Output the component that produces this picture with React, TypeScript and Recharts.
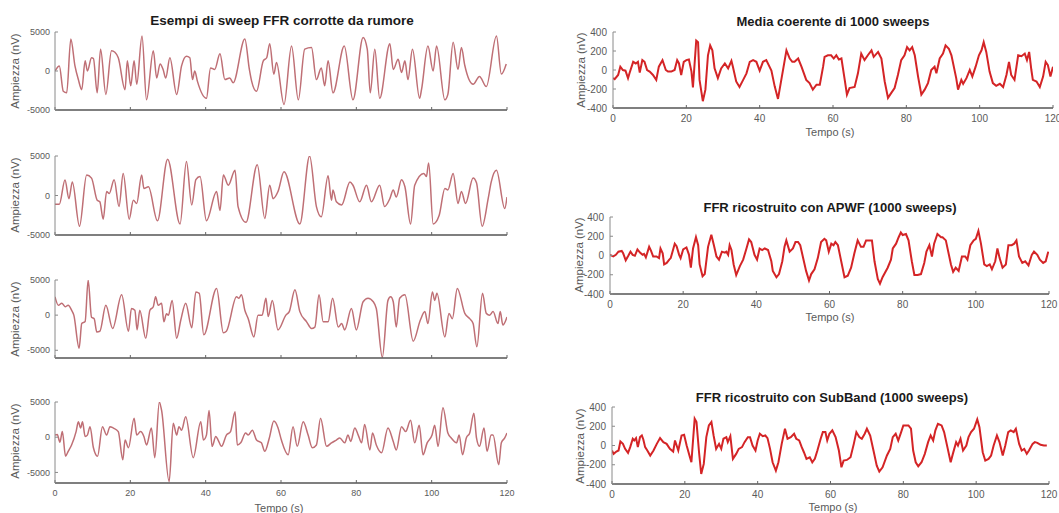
import { LineChart, Line, XAxis, YAxis } from "recharts";

const timeTicks = [0, 20, 40, 60, 80, 100, 120];
const sweepTicks = [-5000, 0, 5000];
const avgTicks = [-400, -200, 0, 200, 400];

const leftTitle = "Esempi di sweep FFR corrotte da rumore";
const rightTitles = [
  "Media coerente di 1000 sweeps",
  "FFR ricostruito con APWF (1000 sweeps)",
  "FFR ricostruito con SubBand (1000 sweeps)",
];
const yLabel = "Ampiezza (nV)";
const xLabel = "Tempo (s)";

// [tempo (s), ampiezza (nV)]
const sweep1: [number, number][] = [
  [0, 0], [1.15, 650], [2.2, -2600], [3.1, -2800], [4.2, 4100], [5.3, 650], [6.2, -1100], [7.1, -2400],
  [8.0, 1300], [8.6, 0], [9.7, 1700], [10.2, 1600], [11.2, -2800], [12.1, 2800], [13.5, -3000], [15.0, 2600],
  [15.9, 2400], [16.8, 1700], [18.6, -2400], [19.2, 1300], [20.1, -1900], [21.0, 1300], [21.7, -1700], [23.1, 4500],
  [24.3, -3700], [26.1, 2600], [27.0, -900], [27.9, 900], [28.7, 200], [29.4, -900], [30.5, 1700], [32.3, -3000],
  [33.6, 650], [34.9, 1900], [35.8, 1700], [36.5, -1100], [37.1, 0], [37.8, -1300], [40.2, -3500], [41.3, 400],
  [42.4, 200], [43.8, 2200], [45.1, -1100], [46.4, -900], [47.3, -1500], [50.4, 4100], [51.6, 200], [52.2, -1300],
  [53.5, -2600], [55.3, 1300], [56.2, 1700], [57.0, 3500], [58.1, -400], [58.8, 1100], [60.8, -4300], [62.8, 3200],
  [64.6, -3700], [66.3, 2800], [68.1, 3000], [69.4, -1100], [70.7, 400], [71.6, -1900], [72.5, 1300], [73.8, -2800],
  [76.8, 3200], [79.1, -3700], [81.8, 4300], [82.9, 2800], [83.7, -2800], [84.9, 2800], [86.2, -3500], [88.9, 3500],
  [89.8, 200], [91.1, 1500], [92.0, -200], [92.9, 1300], [93.7, -1100], [94.9, 2800], [96.8, -3500], [97.3, -2400],
  [99.0, 3200], [100.4, 0], [101.3, 3200], [103.5, -3700], [104.3, -3000], [105.7, 3700], [107.0, 200], [107.9, 3000],
  [108.8, 700], [111.0, -1700], [112.7, -700], [114.5, -2000], [117.2, 4500], [118.5, -400], [119.8, 900],
];

const sweep2: [number, number][] = [
  [0, -1100], [1.15, -1100], [2.65, 1950], [3.7, -400], [4.6, 1700], [6.5, -3900], [8.4, 2600], [9.7, 2200],
  [11.2, -600], [11.9, -800], [12.8, -3000], [13.7, 500], [14.4, 250], [15.7, 2000], [17.0, -1400], [18.1, 2800],
  [19.7, -3000], [20.8, -600], [21.7, -1000], [23.0, 2600], [23.6, 900], [24.8, 1100], [27.2, -3200], [29.9, 4600],
  [33.2, -3600], [34.9, 4300], [36.3, -1200], [37.4, 2000], [38.5, 2400], [40.2, -3200], [42.9, 500], [43.8, -1900],
  [44.7, 2600], [46.0, 1300], [47.8, 3200], [48.6, -1400], [50.7, -3400], [53.7, 3900], [55.7, -2900], [57.0, 1300],
  [57.9, -400], [59.2, 500], [60.8, 3000], [65.0, -3600], [67.6, 5000], [69.4, -1400], [70.7, -2700], [72.5, 2500],
  [73.4, -600], [73.8, 700], [74.7, -800], [76.1, -1200], [78.3, 1700], [79.1, 1300], [80.9, -800], [82.7, 1300],
  [84.0, -800], [86.2, 1300], [87.5, -1400], [88.9, -400], [89.8, 700], [90.6, -200], [92.0, 2000], [92.9, 1100],
  [94.4, -3600], [95.5, 1300], [97.9, 2800], [98.6, 2400], [99.2, 4100], [100.4, -3600], [102.0, -2500], [103.5, 900],
  [104.3, 700], [105.7, 2800], [107.0, -1000], [107.9, 500], [109.0, -1000], [111.0, 2200], [111.9, 1600], [113.4, -3900],
  [115.0, -400], [115.8, 1700], [117.2, 3200], [119.4, -1650], [120, -200],
];

const sweep3: [number, number][] = [
  [0, 2600], [0.9, 1400], [1.8, 1700], [2.7, 1200], [3.5, 1400], [4.4, 700], [5.0, 0], [6.4, -4700],
  [7.1, -1200], [8.0, -900], [8.8, 5000], [9.7, -300], [10.4, -500], [11.1, -2400], [11.9, -2300], [13.5, 1400],
  [15.3, -1900], [17.7, 2900], [19.5, -2300], [20.3, 950], [21.2, 700], [21.8, -2100], [22.5, 700], [24.1, -3300],
  [25.2, 700], [26.1, 1200], [26.7, 2600], [27.4, 1400], [28.3, 1700], [28.9, -950], [29.6, 200], [30.1, 0],
  [31.1, 2100], [32.3, -3300], [33.4, -700], [34.7, 1700], [36.3, -1800], [37.4, 3300], [38.3, 3100], [39.5, -2800],
  [42.9, 3800], [44.7, -2500], [45.5, -2300], [48.2, 2600], [48.8, 2400], [49.5, 2900], [50.4, 700], [51.3, -500],
  [52.8, -3100], [53.9, 0], [55.0, 0], [56.0, 2400], [56.6, -200], [57.7, 2100], [59.2, -2100], [61.3, 0],
  [62.2, 500], [63.7, 3600], [65.0, 500], [66.8, -950], [68.1, -1900], [69.0, -1700], [70.1, 2900], [71.2, -950],
  [72.5, -950], [73.7, 2400], [75.2, -1700], [76.1, -1200], [76.9, -2100], [78.7, 950], [80.0, -2100], [81.8, 1900],
  [83.1, 2400], [84.5, 1900], [85.3, 950], [86.9, -6000], [88.4, 2100], [89.1, 2600], [89.8, 1900], [90.6, -1700],
  [91.5, 2400], [92.9, 2900], [95.1, -3700], [97.0, -700], [98.2, 500], [99.0, -1200], [100.2, 3300], [100.8, 2100],
  [101.4, 3100], [103.5, -3100], [104.6, 250], [105.5, -500], [106.8, 3800], [108.8, 250], [110.1, -500], [111.0, -1200],
  [112.0, -4500], [113.5, 3100], [114.5, 250], [115.4, 0], [116.3, 500], [117.6, -1200], [118.2, 500], [118.9, -1400],
  [120, -250],
];

const sweep4: [number, number][] = [
  [0, 300], [0.6, 400], [1.3, -700], [1.95, 800], [2.8, -2700], [3.5, -2000], [4.4, -1100], [5.6, 800],
  [6.2, 2200], [6.8, 1300], [7.3, 2200], [8.0, 100], [8.6, 300], [9.3, 1500], [10.2, -1500], [11.3, -2700],
  [12.6, 1500], [13.7, 300], [14.6, 1500], [15.5, 1300], [16.8, 800], [18.0, -3200], [18.6, -400], [19.5, -1500],
  [21.0, 2700], [21.7, 300], [22.7, 800], [23.6, 100], [24.3, -1100], [25.6, 1300], [26.5, -2900], [27.7, 5000],
  [28.3, 3800], [30.3, -6300], [31.4, 2000], [32.3, 300], [32.9, 1500], [33.6, 1000], [34.7, 2900], [36.7, -2900],
  [38.7, 2200], [39.4, -400], [40.2, 300], [40.9, 3800], [41.7, -1300], [42.7, 100], [43.3, -400], [44.2, -1300],
  [45.5, 300], [46.6, 800], [47.8, 3600], [48.4, -1100], [49.3, -800], [50.6, 600], [51.3, 300], [52.4, 1000],
  [53.5, -400], [54.8, -800], [55.7, -2000], [56.9, -100], [58.1, 2300], [59.2, 1350], [60.1, -400], [61.9, -2500],
  [63.2, 1500], [64.3, -1300], [65.9, 2200], [67.2, 300], [68.3, -1500], [69.4, -1100], [70.5, 2700], [72.1, -1300],
  [73.4, -800], [74.7, -400], [75.6, -100], [76.9, -800], [77.8, 300], [78.5, -600], [79.6, 1300], [80.5, 300],
  [81.4, -800], [82.2, 1800], [83.6, -1800], [84.3, 600], [85.3, -1100], [86.7, -2200], [88.4, 1300], [89.8, -600],
  [90.6, -1800], [92.0, 1500], [93.1, 800], [94.4, 2400], [95.5, -800], [96.7, 1700], [97.7, -2500], [98.8, -800],
  [100.1, 300], [100.8, 1700], [101.7, -1300], [103.0, 4200], [104.3, 600], [105.2, -100], [106.6, -800], [107.3, 300],
  [108.2, -2500], [109.2, -100], [110.1, 600], [111.2, 3400], [111.9, -100], [112.7, -1300], [113.9, 1300], [114.7, -2000],
  [115.8, 300], [116.3, 300], [117.8, -3900], [118.5, -800], [119.4, -100], [120, 600],
];

const mediaCoerente: [number, number][] = [
  [0, -86], [0.45, -97], [1.4, -52], [2.0, 35], [2.7, 0], [3.4, -7], [4.1, -86], [4.5, -35], [5.5, 86], [6.2, 69],
  [6.8, 86], [7.3, -28], [8.0, 104], [8.6, 86], [9.3, 0], [10.0, -17], [10.9, -52], [11.8, -104], [12.5, 35], [13.5, 104],
  [14.4, 0], [15.0, -17], [15.9, -17], [16.8, 0], [17.5, 104], [18.0, 69], [18.6, -52], [19.3, 86], [20.0, 104], [20.7, 110],
  [21.4, -17], [21.8, -183], [22.7, 310], [23.2, 293], [23.6, -104], [24.5, -328], [25.2, -207], [25.9, 155], [26.5, 259], [27.1, 207],
  [27.7, 17], [28.6, -86], [29.5, 17], [30.5, 69], [31.4, 17], [32.3, 97], [32.7, 35], [33.6, -121], [34.5, -179], [35.5, -104],
  [36.4, -35], [37.3, 86], [38.2, 104], [39.1, 86], [40.0, -7], [40.9, 86], [41.8, 104], [43.2, -7], [44.1, -172], [45.0, -304],
  [45.9, -104], [47.3, 207], [48.2, 121], [48.9, 86], [49.5, 86], [50.5, 121], [51.4, 35], [52.7, -104], [53.6, -138], [54.5, -207],
  [55.5, -155], [56.4, -155], [57.3, 35], [57.7, 138], [58.6, 155], [59.5, 155], [60.2, 121], [60.9, 155], [61.6, 110], [62.3, 121],
  [63.2, -104], [63.8, -259], [64.5, -190], [65.9, -179], [66.8, -35], [67.7, 173], [68.6, 104], [69.5, 155], [70.5, 207], [71.1, 138],
  [72.3, 190], [73.2, 121], [74.1, -121], [75.0, -293], [75.9, -241], [76.8, -190], [77.7, -52], [78.6, 104], [79.5, 155], [80.2, 241],
  [80.9, 207], [81.6, 241], [82.3, 155], [83.2, -69], [84.1, -259], [85.0, -207], [85.9, -138], [86.8, 0], [87.7, 35], [88.2, -35],
  [89.1, 121], [90.0, 173], [90.7, 259], [91.6, 224], [92.3, 155], [93.6, -86], [94.1, -207], [95.0, -104], [95.5, -145], [96.4, -86],
  [97.3, 0], [98.0, -69], [98.9, 35], [99.8, 155], [100.5, 207], [101.1, 293], [101.8, 190], [102.7, -17], [103.6, -138], [104.5, -166],
  [105.5, -145], [106.4, -179], [107.3, -52], [108.0, 86], [108.6, -52], [109.5, -104], [110.5, 155], [111.4, 145], [112.3, 173], [112.9, 104],
  [113.5, 190], [114.1, 0], [114.5, -104], [115.5, -121], [116.4, -179], [117.3, -69], [118.0, 86], [118.6, 52], [119.3, -69], [120, 35],
];

const apwf: [number, number][] = [
  [0, 7], [0.9, -10], [1.6, 7], [2.3, 40], [3.2, 47], [3.6, 23], [4.3, -50], [5.0, -3], [5.6, 40], [6.2, 7],
  [6.8, -3], [7.5, 63], [8.2, 30], [8.9, 7], [9.3, 17], [9.8, -20], [10.7, 90], [11.2, 50], [11.8, -10], [12.7, -10],
  [13.4, -27], [13.8, 73], [14.4, 23], [14.8, -93], [15.5, -77], [16.2, -43], [16.6, -27], [17.7, 123], [18.2, 97], [18.9, 7],
  [19.3, -27], [20.0, 63], [20.9, 83], [21.6, 7], [22.1, -127], [22.7, 73], [23.5, 190], [24.1, 107], [24.5, -93], [25.3, -216],
  [25.9, -193], [26.8, 90], [27.7, 216], [28.4, 107], [29.1, -10], [29.8, -43], [30.6, 40], [31.4, 30], [31.8, 40], [32.3, 7],
  [32.7, 107], [33.2, 57], [33.8, -93], [34.5, -203], [35.5, -110], [36.4, -43], [37.3, 73], [38.0, 167], [38.6, 140], [39.5, 7],
  [40.2, -43], [40.9, 73], [41.6, 57], [42.3, 73], [43.2, 57], [44.1, -60], [44.5, -160], [45.5, -226], [46.2, -193], [47.1, -60],
  [47.7, 90], [48.2, 157], [49.1, 40], [50.0, 73], [50.7, 140], [51.4, 140], [52.0, 107], [52.7, -10], [53.6, -160], [54.4, -260],
  [55.0, -193], [55.9, -143], [56.8, -27], [57.7, 140], [58.6, 173], [59.1, 157], [59.8, 40], [60.5, 123], [61.1, 107], [61.6, 140],
  [62.3, 107], [63.2, -60], [64.1, -226], [65.0, -210], [65.9, -127], [66.8, 23], [67.7, 157], [68.6, 90], [69.3, 90], [70.0, 157],
  [70.9, 157], [71.6, 157], [72.3, -60], [73.2, -243], [73.8, -293], [74.5, -226], [75.9, -127], [76.8, -43], [77.3, 73], [78.2, 123],
  [78.9, 190], [79.5, 240], [80.0, 213], [80.9, 223], [81.6, 157], [82.5, -60], [83.2, -203], [84.1, -203], [85.0, -193], [85.9, -77],
  [86.5, 40], [87.3, 107], [88.0, -10], [88.6, 123], [89.5, 223], [90.5, 190], [90.9, 190], [91.8, 157], [93.2, -93], [93.8, -170],
  [94.5, -127], [95.3, -160], [96.2, -10], [97.1, -10], [97.7, -43], [98.5, 107], [99.4, 157], [100.0, 173], [100.7, 256], [101.4, 123],
  [102.3, -93], [103.0, -110], [103.8, -93], [104.4, -143], [105.3, -60], [105.9, 73], [106.5, -27], [107.3, -127], [108.2, -93], [108.9, 107],
  [109.8, 107], [110.5, 123], [111.1, 157], [111.8, -10], [112.7, -77], [113.5, -60], [114.4, -103], [115.3, 7], [115.9, 40], [116.8, 7],
  [117.5, -43], [118.4, -77], [119.1, -60], [119.8, 40],
];

const subBand: [number, number][] = [
  [0, -52], [0.45, -87], [1.2, -63], [1.8, -52], [2.3, 42], [3.0, 17], [3.6, -35], [4.4, -77], [5.0, -17], [5.7, 70],
  [6.1, 52], [6.6, 77], [7.1, -17], [7.7, 87], [8.2, 104], [8.6, 63], [9.1, -17], [9.7, -52], [10.5, -104], [11.4, -52],
  [12.3, 17], [13.2, 77], [14.1, 35], [15.0, 17], [15.9, -35], [16.8, -63], [17.3, 52], [18.2, -52], [19.1, 104], [19.8, 111],
  [20.5, 0], [21.4, -122], [21.8, -174], [22.7, 278], [23.2, 244], [23.9, -70], [24.5, -296], [25.2, -191], [25.9, 87], [26.6, 209],
  [27.3, 244], [27.9, 104], [28.6, -35], [29.4, 17], [30.0, -35], [30.6, 70], [31.4, 87], [31.8, 35], [32.5, 97], [33.2, -139],
  [34.1, -87], [34.8, -35], [35.7, -17], [36.4, 35], [37.3, 87], [37.9, 87], [38.6, 0], [39.4, -52], [40.0, 52], [40.6, 122],
  [41.4, 97], [42.1, 104], [42.7, 77], [43.4, -35], [44.1, -174], [45.0, -261], [45.7, -174], [46.6, 17], [47.5, 174], [48.2, 70],
  [49.1, 87], [50.0, 122], [50.6, 70], [51.4, 52], [52.1, -17], [52.7, -70], [53.4, -139], [54.3, -122], [55.0, -174], [55.7, -139],
  [56.4, -52], [57.3, 70], [57.9, 139], [58.6, 139], [59.1, 52], [59.7, 122], [60.5, 157], [61.4, 87], [62.3, -52], [63.0, -226],
  [63.6, -157], [64.5, -150], [65.5, -122], [66.4, 17], [67.1, 139], [67.9, 87], [68.6, 70], [69.4, 122], [70.0, 174], [70.9, 104],
  [71.8, -52], [72.7, -209], [73.4, -271], [74.3, -226], [75.5, -104], [76.4, -35], [77.1, 87], [77.9, 122], [78.6, 52], [79.4, 139],
  [80.0, 209], [80.9, 209], [81.4, 209], [82.1, 174], [82.7, -52], [83.4, -174], [84.1, -216], [85.0, -174], [85.9, -87], [86.8, 35],
  [87.5, 104], [88.2, 52], [88.8, 157], [89.5, 226], [90.5, 209], [91.2, 139], [92.1, -17], [93.0, -174], [93.6, -87], [94.5, 35],
  [95.0, 0], [95.7, 70], [96.4, -52], [97.3, 0], [97.9, 87], [98.6, 139], [99.4, 174], [100.3, 271], [100.9, 191], [101.8, -70],
  [102.5, -157], [103.4, -139], [104.1, -104], [104.8, 0], [105.7, 104], [106.4, 35], [107.3, -104], [108.0, 0], [108.8, 139], [109.5, 157],
  [110.3, 139], [110.9, 174], [111.8, 17], [112.5, -52], [113.2, -35], [113.9, -87], [114.5, -52], [115.5, 17], [116.1, 35], [116.8, 28],
  [117.7, 7], [118.6, 0], [119.4, 0],
];

const FONT = '"Liberation Sans", Arial, Helvetica, sans-serif';
const TEXT = "#5a5a5a";

type PanelProps = {
  data: [number, number][];
  left: number;
  top: number;
  width: number;
  height: number;
  domain: [number, number];
  yTicks: number[];
  color: string;
  strokeWidth: number;
  curve: "monotone" | "linear";
  showTimeLabels: boolean;
  tickFont: number;
  yMargin: number;
};

const Y_W = 60;
const TOP_PAD = 8;
const RIGHT_PAD = 14;
const X_H = 26;

const Panel = (p: PanelProps) => {
  const rows = p.data.map(([t, v]) => ({ t, v }));
  return (
    <div style={{ position: "absolute", left: p.left - Y_W, top: p.top - TOP_PAD }}>
      <LineChart
        width={Y_W + p.width + RIGHT_PAD}
        height={TOP_PAD + p.height + X_H}
        data={rows}
        margin={{ top: TOP_PAD, right: RIGHT_PAD, left: 0, bottom: 0 }}
      >
        <XAxis
          type="number"
          dataKey="t"
          domain={[0, 120]}
          ticks={timeTicks}
          height={X_H}
          axisLine={{ stroke: "#555555", strokeWidth: 1.4 }}
          tickLine={{ stroke: "#666666" }}
          tickSize={-3}
          tickMargin={10}
          tick={{ fontSize: p.tickFont, fill: TEXT }}
          tickFormatter={(v: number) => (p.showTimeLabels ? String(v) : "")}
          allowDataOverflow
        />
        <YAxis
          type="number"
          domain={p.domain}
          ticks={p.yTicks}
          width={Y_W}
          axisLine={{ stroke: "#8a8a8a" }}
          tickLine={{ stroke: "#8a8a8a" }}
          tickSize={-3}
          tickMargin={p.yMargin}
          tick={{ fontSize: p.tickFont, fill: TEXT }}
          allowDataOverflow
          interval={0}
        />
        <Line
          dataKey="v"
          type={p.curve}
          stroke={p.color}
          strokeWidth={p.strokeWidth}
          dot={false}
          activeDot={false}
          isAnimationActive={false}
        />
      </LineChart>
    </div>
  );
};

const Txt = ({ x, y, size, bold, rotate, children }: { x: number; y: number; size: number; bold?: boolean; rotate?: boolean; children: string }) => (
  <div
    style={{
      position: "absolute",
      left: x,
      top: y,
      transform: `translate(-50%, -50%)${rotate ? " rotate(-90deg)" : ""}`,
      whiteSpace: "nowrap",
      fontSize: size,
      fontWeight: bold ? 700 : 400,
      color: bold ? "#1a1a1a" : TEXT,
      lineHeight: 1,
    }}
  >
    {children}
  </div>
);

const LEFT_COLOR = "#bf6f75";
const RIGHT_COLOR = "#d42426";

export default function App() {
  return (
    <div
      style={{
        position: "absolute",
        left: 0,
        top: 0,
        width: 1059,
        height: 513,
        overflow: "hidden",
        background: "#ffffff",
        fontFamily: FONT,
      }}
    >
      <Panel data={sweep1} left={55} top={32} width={452} height={78} domain={[-5000, 5000]} yTicks={sweepTicks}
        color={LEFT_COLOR} strokeWidth={1.5} curve="monotone" showTimeLabels={false} tickFont={9} yMargin={8} />
      <Panel data={sweep2} left={55} top={156} width={452} height={79} domain={[-5000, 5000]} yTicks={sweepTicks}
        color={LEFT_COLOR} strokeWidth={1.5} curve="monotone" showTimeLabels={false} tickFont={9} yMargin={8} />
      <Panel data={sweep3} left={55} top={280} width={452} height={78} domain={[-6100, 5000]} yTicks={sweepTicks}
        color={LEFT_COLOR} strokeWidth={1.5} curve="monotone" showTimeLabels={false} tickFont={9} yMargin={8} />
      <Panel data={sweep4} left={55} top={402} width={452} height={81} domain={[-6500, 5000]} yTicks={sweepTicks}
        color={LEFT_COLOR} strokeWidth={1.5} curve="monotone" showTimeLabels={true} tickFont={9} yMargin={8} />

      <Panel data={mediaCoerente} left={613} top={32} width={440} height={76} domain={[-400, 400]} yTicks={avgTicks}
        color={RIGHT_COLOR} strokeWidth={2} curve="linear" showTimeLabels={true} tickFont={10} yMargin={9} />
      <Panel data={apwf} left={610} top={217} width={439} height={77} domain={[-400, 400]} yTicks={avgTicks}
        color={RIGHT_COLOR} strokeWidth={2} curve="linear" showTimeLabels={true} tickFont={10} yMargin={9} />
      <Panel data={subBand} left={612} top={407} width={437} height={77} domain={[-400, 400]} yTicks={avgTicks}
        color={RIGHT_COLOR} strokeWidth={2} curve="linear" showTimeLabels={true} tickFont={10} yMargin={9} />

      <Txt x={282} y={21} size={13.5} bold>{leftTitle}</Txt>
      <Txt x={833} y={21} size={13} bold>{rightTitles[0]}</Txt>
      <Txt x={830} y={207} size={13} bold>{rightTitles[1]}</Txt>
      <Txt x={832} y={397} size={13} bold>{rightTitles[2]}</Txt>

      <Txt x={16} y={71} size={11.5} rotate>{yLabel}</Txt>
      <Txt x={16} y={195} size={11.5} rotate>{yLabel}</Txt>
      <Txt x={16} y={319} size={11.5} rotate>{yLabel}</Txt>
      <Txt x={16} y={441} size={11.5} rotate>{yLabel}</Txt>
      <Txt x={582} y={70} size={11.5} rotate>{yLabel}</Txt>
      <Txt x={580} y={255} size={11.5} rotate>{yLabel}</Txt>
      <Txt x={581} y={446} size={11.5} rotate>{yLabel}</Txt>

      <Txt x={279} y={508} size={11}>{xLabel}</Txt>
      <Txt x={830} y={132} size={11}>{xLabel}</Txt>
      <Txt x={830} y={317} size={11}>{xLabel}</Txt>
      <Txt x={833} y={507} size={11}>{xLabel}</Txt>
    </div>
  );
}
